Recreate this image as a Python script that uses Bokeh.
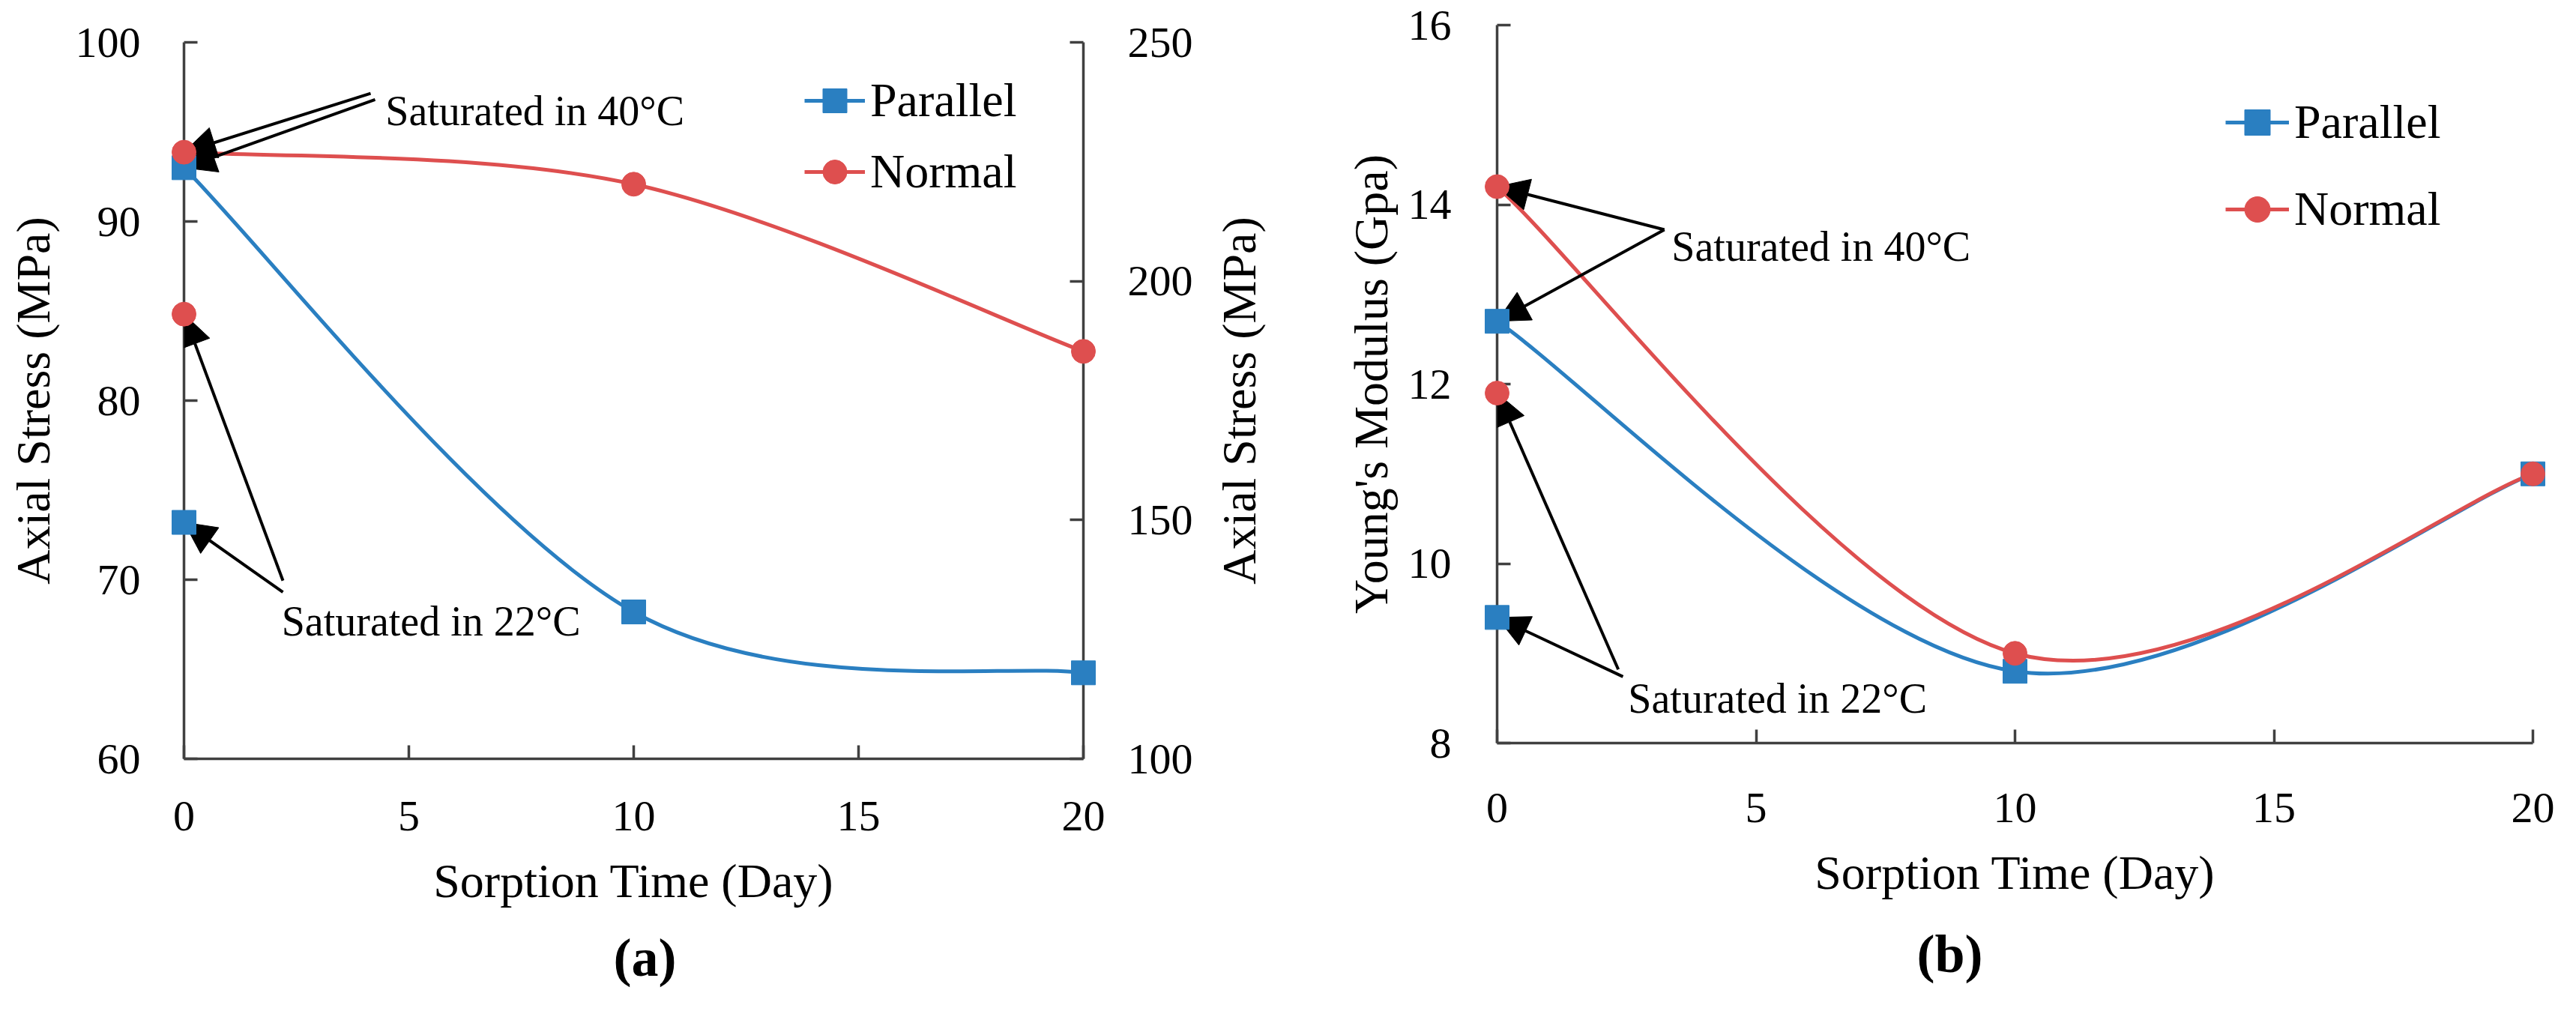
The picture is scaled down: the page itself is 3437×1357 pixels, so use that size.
import numpy as np
from bokeh.embed import file_html
from bokeh.layouts import row
from bokeh.models import (Arrow, FixedTicker, Label, Legend, LegendItem,
                          LinearAxis, NormalHead, Range1d, Title)
from bokeh.plotting import figure
from bokeh.resources import INLINE

# sorption time (day)
days = [0, 10, 20]
day_22 = [0]
day_ticks = [0, 5, 10, 15, 20]

# (a) axial stress, MPa: parallel on the left axis, normal on the right axis
stress_parallel = [93.0, 68.2, 64.8]
stress_normal = [227.0, 220.3, 185.3]
stress_parallel_22 = [73.2]
stress_normal_22 = [193.1]
stress_ticks_left = [60, 70, 80, 90, 100]
stress_ticks_right = [100, 150, 200, 250]

# (b) young's modulus, GPa
modulus_parallel = [12.7, 8.8, 11.0]
modulus_normal = [14.2, 9.0, 11.0]
modulus_parallel_22 = [9.4]
modulus_normal_22 = [11.9]
modulus_ticks = [8, 10, 12, 14, 16]

BLUE = "#2a7fc1"
RED = "#de4f4f"
AXIS = "#404040"
SERIF = "Liberation Serif"


def smooth(xs, ys):
    # excel style smoothed line, one cubic bezier per segment
    x = np.asarray(xs, dtype=float)
    y = np.asarray(ys, dtype=float)
    xp = np.r_[x[0], x, x[-1]]
    yp = np.r_[y[0], y, y[-1]]
    i = np.arange(len(x) - 1)
    return dict(x0=x[:-1], y0=y[:-1], x1=x[1:], y1=y[1:],
                cx0=x[:-1] + (xp[i + 2] - xp[i]) / 6,
                cy0=y[:-1] + (yp[i + 2] - yp[i]) / 6,
                cx1=x[1:] - (xp[i + 3] - xp[i + 1]) / 6,
                cy1=y[1:] - (yp[i + 3] - yp[i + 1]) / 6)


def make_fig(**kw):
    p = figure(title=None, output_backend="svg", toolbar_location=None,
               outline_line_color=None, **kw)
    if "frame_align" in p.properties():
        p.frame_align = False
    p.grid.visible = False
    return p


def style(ax, ticks, standoff, label_standoff=0):
    ax.ticker = FixedTicker(ticks=ticks)
    ax.axis_line_color = AXIS
    ax.axis_line_width = 3.5
    ax.major_tick_line_color = AXIS
    ax.major_tick_line_width = 3.5
    ax.major_tick_in = 18
    ax.major_tick_out = 0
    ax.minor_tick_line_color = None
    ax.major_label_standoff = standoff
    ax.major_label_text_font = SERIF
    ax.major_label_text_font_size = "58px"
    ax.major_label_text_color = "black"
    ax.axis_label_standoff = label_standoff
    ax.axis_label_text_font = SERIF
    ax.axis_label_text_font_size = "64px"
    ax.axis_label_text_font_style = "normal"
    ax.axis_label_text_color = "black"


def head():
    return NormalHead(size=42, fill_color="black", line_color="black", line_width=1)


def note(x, y, text):
    return Label(x=x, y=y, text=text, text_font=SERIF, text_font_size="56px",
                 text_baseline="alphabetic", text_color="black")


def legend(items, loc, row_h, spacing, glyph_w):
    return Legend(items=items, location=loc, glyph_width=glyph_w, glyph_height=row_h,
                  label_height=row_h, spacing=spacing, padding=0, margin=0,
                  label_standoff=7, border_line_color=None, background_fill_alpha=0,
                  label_text_font=SERIF, label_text_font_size="64px",
                  label_text_color="black")


def caption(text, offset, standoff):
    return Title(text=text, align="left", offset=offset, standoff=standoff,
                 text_font=SERIF, text_font_size="72px", text_font_style="bold",
                 text_color="black")


# ---------------- (a) ----------------
pa = make_fig(width=1612, height=1341, x_range=Range1d(0, 20), y_range=Range1d(60, 100),
              min_border_left=245, min_border_right=167, min_border_top=56, min_border_bottom=329)
pa.extra_y_ranges = {"right": Range1d(100, 250)}
pa.add_layout(LinearAxis(y_range_name="right"), "right")
pa.xaxis.axis_label = "Sorption Time (Day)"
pa.left[0].axis_label = "Axial Stress (MPa)"
style(pa.below[0], day_ticks, 57, 29)
style(pa.left[0], stress_ticks_left, 58, 18)
style(pa.right[0], stress_ticks_right, 59)

par_a = pa.bezier(line_color=BLUE, line_width=5, **smooth(days, stress_parallel))
nor_a = pa.bezier(line_color=RED, line_width=5, y_range_name="right", **smooth(days, stress_normal))
sq_a = pa.scatter(days, stress_parallel, marker="square", size=32, color=BLUE, level="overlay")
pa.scatter(day_22, stress_parallel_22, marker="square", size=32, color=BLUE, level="overlay")
ci_a = pa.scatter(days, stress_normal, marker="circle", size=32, color=RED,
                  y_range_name="right", level="overlay")
pa.scatter(day_22, stress_normal_22, marker="circle", size=32, color=RED,
           y_range_name="right", level="overlay")

pa.add_layout(legend([LegendItem(label="Parallel", renderers=[par_a, sq_a]),
                      LegendItem(label="Normal", renderers=[nor_a, ci_a])],
                     (828, 743), 80, 15, 81))

pa.add_layout(Arrow(end=head(), x_start=4.15, y_start=239.3, x_end=days[0], y_end=stress_normal[0],
                    y_range_name="right", line_width=4))
pa.add_layout(Arrow(end=head(), x_start=4.25, y_start=96.8, x_end=days[0], y_end=stress_parallel[0],
                    line_width=4))
pa.add_layout(note(4.48, 96.19, "Saturated in 40°C"))
pa.add_layout(Arrow(end=head(), x_start=2.2, y_start=137.3, x_end=day_22[0], y_end=stress_normal_22[0],
                    y_range_name="right", line_width=4))
pa.add_layout(Arrow(end=head(), x_start=2.2, y_start=69.3, x_end=day_22[0], y_end=stress_parallel_22[0],
                    line_width=4))
pa.add_layout(note(2.17, 67.66, "Saturated in 22°C"))
pa.add_layout(caption("(a)", 573, 45), "below")

# title of the right stress axis, read bottom to top like the left one
pr = make_fig(width=108, height=1341, x_range=Range1d(0, 1), y_range=Range1d(60, 100),
              x_axis_type=None, y_axis_type=None,
              min_border_left=0, min_border_right=0, min_border_top=56, min_border_bottom=329)
pr.add_layout(Label(x=0.38, y=80, text="Axial Stress (MPa)", angle=np.pi / 2,
                    text_align="center", text_baseline="middle", text_font=SERIF,
                    text_font_size="64px", text_color="black"))

# ---------------- (b) ----------------
pb = make_fig(width=1701, height=1341, x_range=Range1d(0, 20), y_range=Range1d(8, 16),
              min_border_left=277, min_border_right=42, min_border_top=33, min_border_bottom=347)
pb.xaxis.axis_label = "Sorption Time (Day)"
pb.yaxis.axis_label = "Young's Modulus (Gpa)"
style(pb.below[0], day_ticks, 67, 29)
style(pb.left[0], modulus_ticks, 61, 11)

par_b = pb.bezier(line_color=BLUE, line_width=5, **smooth(days, modulus_parallel))
nor_b = pb.bezier(line_color=RED, line_width=5, **smooth(days, modulus_normal))
sq_b = pb.scatter(days, modulus_parallel, marker="square", size=32, color=BLUE, level="overlay")
pb.scatter(day_22, modulus_parallel_22, marker="square", size=32, color=BLUE, level="overlay")
ci_b = pb.scatter(days, modulus_normal, marker="circle", size=32, color=RED, level="overlay")
pb.scatter(day_22, modulus_normal_22, marker="circle", size=32, color=RED, level="overlay")

pb.add_layout(legend([LegendItem(label="Parallel", renderers=[par_b, sq_b]),
                      LegendItem(label="Normal", renderers=[nor_b, ci_b])],
                     (972, 662), 100, 16, 85))

pb.add_layout(Arrow(end=head(), x_start=3.23, y_start=13.72, x_end=days[0], y_end=modulus_normal[0],
                    line_width=4))
pb.add_layout(Arrow(end=head(), x_start=3.23, y_start=13.72, x_end=days[0], y_end=modulus_parallel[0],
                    line_width=4))
pb.add_layout(note(3.37, 13.53, "Saturated in 40°C"))
pb.add_layout(Arrow(end=head(), x_start=2.34, y_start=8.82, x_end=day_22[0], y_end=modulus_normal_22[0],
                    line_width=4))
pb.add_layout(Arrow(end=head(), x_start=2.43, y_start=8.74, x_end=day_22[0], y_end=modulus_parallel_22[0],
                    line_width=4))
pb.add_layout(note(2.53, 8.5, "Saturated in 22°C"))
pb.add_layout(caption("(b)", 560, 57), "below")

layout = row(pa, pr, pb)
open("out.html", "w").write(file_html(layout, INLINE, "Sorption time"))
